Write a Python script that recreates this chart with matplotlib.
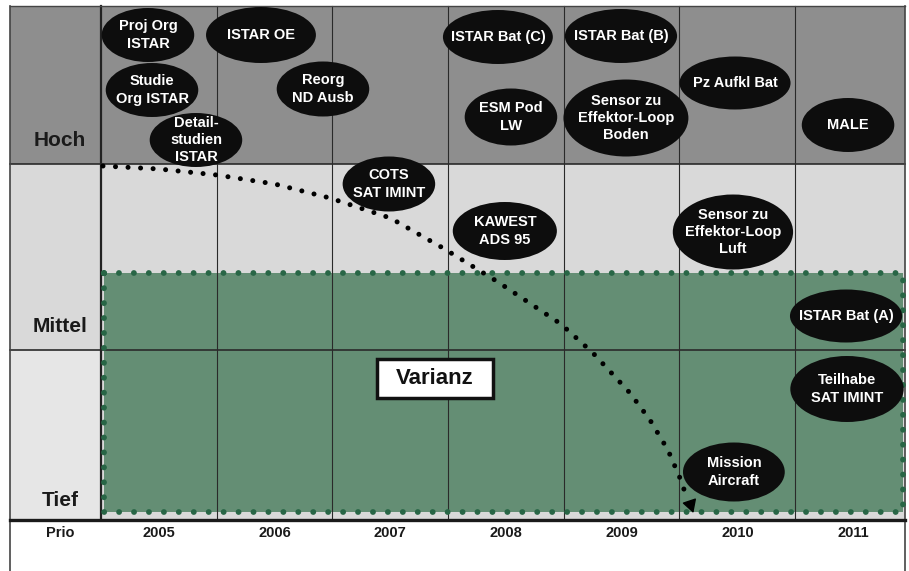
import matplotlib
matplotlib.use("Agg")
import matplotlib.pyplot as plt
from matplotlib.patches import Ellipse, Rectangle

plt.rcParams['font.family'] = ['Liberation Sans', 'DejaVu Sans']

# ---------------- data ----------------
years = [2005, 2006, 2007, 2008, 2009, 2010, 2011]
levels = ["Tief", "Mittel", "Hoch"]
level_bounds = [0, 170, 356, 514]          # band limits on the priority scale
level_label_y = [20, 194, 380]
prio_label = "Prio"

item_labels = [
    "Proj Org\nISTAR", "ISTAR OE", "Studie\nOrg ISTAR", "Reorg\nND Ausb",
    "Detail-\nstudien\nISTAR", "COTS\nSAT IMINT", "ISTAR Bat (C)", "ISTAR Bat (B)",
    "ESM Pod\nLW", "Sensor zu\nEffektor-Loop\nBoden", "Pz Aufkl Bat", "MALE",
    "KAWEST\nADS 95", "Sensor zu\nEffektor-Loop\nLuft", "ISTAR Bat (A)",
    "Teilhabe\nSAT IMINT", "Mission\nAircraft",
]
item_year = [2004.905, 2005.882, 2004.94, 2006.418, 2005.32, 2006.988, 2007.93,
             2008.994, 2008.043, 2009.037, 2009.98, 2010.957, 2007.99, 2009.962,
             2010.94, 2010.948, 2009.97]
item_level = [485, 485, 430, 431, 380, 336, 483, 484, 403, 402, 437, 395,
              289, 288, 204, 131, 48]

# trend curve (dotted arrow)
trend_year = [2004.516, 2005.0, 2005.501, 2006.0, 2006.478, 2007.0, 2007.455,
              2007.931, 2008.475, 2008.752, 2009.072, 2009.245, 2009.40,
              2009.504, 2009.556]
trend_level = [354, 351, 345, 336, 322, 302, 272, 238, 196, 167, 127, 100, 70,
               42, 25]
trend_tip = (2009.62, 7)

# variance zone
varianz_label = "Varianz"
varianz_years = (2004.525, 2011.43)
varianz_levels = (8, 247)
varianz_label_pos = (2007.386, 141.5)

# ---------------- styles / layout ----------------
ell_w = [0.80, 0.95, 0.80, 0.80, 0.80, 0.80, 0.95, 0.97, 0.80, 1.08, 0.96, 0.80,
         0.90, 1.04, 0.97, 0.98, 0.88]
ell_h = [54, 56, 54, 55, 54, 55, 54, 54, 57, 77, 53, 54, 58, 75, 53, 66, 59]

X0 = 2003.712      # left frame
XSEP = 2004.5      # label column separator
X1 = 2011.45       # right frame
LABEL_X = 2004.144

DARK = '#8e8e8e'
LIGHT = '#d9d9d9'
LIGHTER = '#e6e6e6'
GREEN = '#648e74'
GREEN_DOT = '#286646'

fig = plt.figure(figsize=(9.09, 5.71), dpi=100)
ax = fig.add_axes([0, 0, 1, 1])
ax.set_xlim(2003.626, 2011.484)
ax.set_ylim(-51, 520)
ax.axis('off')

# bands
ax.add_patch(Rectangle((X0, level_bounds[2]), X1 - X0, level_bounds[3] - level_bounds[2],
                       facecolor=DARK, edgecolor='none', zorder=1))
ax.add_patch(Rectangle((X0, level_bounds[1]), X1 - X0, level_bounds[2] - level_bounds[1],
                       facecolor=LIGHT, edgecolor='none', zorder=1))
ax.add_patch(Rectangle((X0, level_bounds[0]), X1 - X0, level_bounds[1] - level_bounds[0],
                       facecolor=LIGHT, edgecolor='none', zorder=1))
ax.add_patch(Rectangle((X0, level_bounds[0]), XSEP - X0, level_bounds[1] - level_bounds[0],
                       facecolor=LIGHTER, edgecolor='none', zorder=1))

# green variance zone
ax.add_patch(Rectangle((varianz_years[0], varianz_levels[0]),
                       varianz_years[1] - varianz_years[0],
                       varianz_levels[1] - varianz_levels[0],
                       facecolor=GREEN, edgecolor='none', zorder=2))

# grid lines
for i in range(1, len(years)):
    xb = years[i] - 0.5
    ax.plot([xb, xb], [level_bounds[0], level_bounds[3]], color='#2a2a2a', lw=0.8, zorder=3)
ax.plot([XSEP, XSEP], [level_bounds[0], level_bounds[3]], color='#222222', lw=1.6, zorder=3)
for yb in level_bounds[1:3]:
    ax.plot([X0, X1], [yb, yb], color='#2a2a2a', lw=1.2, zorder=3)
ax.plot([X0, X1], [level_bounds[3], level_bounds[3]], color='#444444', lw=1.0, zorder=3)
ax.plot([X0, X1], [level_bounds[0], level_bounds[0]], color='#1a1a1a', lw=2.4, zorder=6)
ax.plot([X0, X0], [-51, level_bounds[3]], color='#444444', lw=1.2, zorder=3)
ax.plot([X1, X1], [-51, level_bounds[3]], color='#444444', lw=1.2, zorder=3)

# dotted green border
vx0, vx1 = varianz_years
vy0, vy1 = varianz_levels
ax.plot([vx0, vx1, vx1, vx0, vx0], [vy1, vy1, vy0, vy0, vy1], color=GREEN_DOT,
        lw=4.2, linestyle=(0, (0.01, 2.55)), dash_capstyle='round', zorder=4)

# level labels
for name, ly in zip(levels, level_label_y):
    ax.text(LABEL_X, ly, name, ha='center', va='center', fontsize=15,
            fontweight='bold', color='#1a1a1a', zorder=7)
ax.text(LABEL_X, -13, prio_label, ha='center', va='center', fontsize=10.5,
        fontweight='bold', color='#1a1a1a', zorder=7)
for yr in years:
    ax.text(yr, -13, str(yr), ha='center', va='center', fontsize=10.5,
            fontweight='bold', color='#1a1a1a', zorder=7)

# trend curve
ax.plot(trend_year, trend_level, color='black', lw=3.6, linestyle=(0, (0.01, 2.5)),
        dash_capstyle='round', zorder=8)
ax.annotate('', xy=trend_tip, xytext=(trend_year[-1] + 0.035, trend_level[-1] - 8),
            arrowprops=dict(arrowstyle='-|>,head_length=0.8,head_width=0.45',
                            color='black', lw=1.0, shrinkA=0, shrinkB=0),
            zorder=8)

# ellipses
for lab, x, y, w, h in zip(item_labels, item_year, item_level, ell_w, ell_h):
    ax.add_patch(Ellipse((x, y), w, h, facecolor='#0d0d0d', edgecolor='none', zorder=9))
    ax.text(x, y, lab, ha='center', va='center', color='white', fontsize=10.5,
            fontweight='bold', linespacing=1.3, zorder=10)

# Varianz box
bx, by = varianz_label_pos
ax.add_patch(Rectangle((bx - 0.50, by - 19.5), 1.0, 39, facecolor='white',
                       edgecolor='#111111', linewidth=2.5, zorder=11))
ax.text(bx, by, varianz_label, ha='center', va='center', fontsize=16,
        fontweight='bold', color='#111111', zorder=12)

fig.savefig('out.png', dpi=100)
